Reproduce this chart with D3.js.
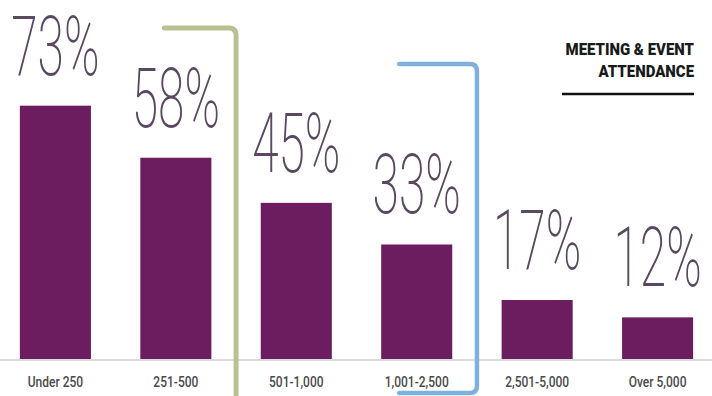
<!DOCTYPE html>
<html>
<head>
<meta charset="utf-8">
<script src="https://cdn.jsdelivr.net/npm/d3@7/dist/d3.min.js"></script>
<style>
  html, body { margin: 0; padding: 0; background: #ffffff; }
  svg { display: block; }
</style>
</head>
<body>
<svg id="chart" width="712" height="396"></svg>
<script>
// Attendance brackets and their share of respondents
const categories = ["Under 250", "251-500", "501-1,000", "1,001-2,500", "2,501-5,000", "Over 5,000"];
const values = [73, 58, 45, 33, 17, 12];
const titleLines = ["MEETING & EVENT", "ATTENDANCE"];

const W = 712, H = 396;
const baseY = 359;
const svg = d3.select("#chart");

const x = d3.scaleBand()
  .domain(categories)
  .range([0, 713])
  .paddingInner(0.41)
  .paddingOuter(0.165);

const y = d3.scaleLinear()
  .domain([0, 100])
  .range([baseY, baseY - 347]);

// text squeezed horizontally for a condensed face; anchored at (px, py)
function condensedText(parent, data, px, py, factor, anchor) {
  return parent.selectAll(null)
    .data(data)
    .join("g")
    .attr("transform", (d, i) => `translate(${px(d, i)},${py(d, i)}) scale(${factor},1)`)
    .append("text")
    .attr("text-anchor", anchor);
}

// baseline rule
svg.append("line")
  .attr("x1", 0).attr("x2", W)
  .attr("y1", baseY + 1).attr("y2", baseY + 1)
  .attr("stroke", "#cfcfcf").attr("stroke-width", 1.5);

// bars
svg.selectAll("rect.bar")
  .data(categories)
  .join("rect")
  .attr("class", "bar")
  .attr("x", d => x(d))
  .attr("width", x.bandwidth())
  .attr("y", (d, i) => y(values[i]))
  .attr("height", (d, i) => y(0) - y(values[i]))
  .attr("fill", "#6b1d5f");

// value labels
condensedText(svg, categories,
    d => x(d) + x.bandwidth() / 2,
    (d, i) => y(values[i]) - 31,
    0.57, "middle")
  .attr("font-family", "Roboto, 'DejaVu Sans', sans-serif")
  .attr("font-weight", 200)
  .attr("font-size", 84)
  .attr("fill", "#5a4760")
  .text((d, i) => values[i] + "%");

// category labels
condensedText(svg, categories,
    d => x(d) + x.bandwidth() / 2,
    () => 387,
    0.8, "middle")
  .attr("font-family", "Roboto, 'DejaVu Sans', sans-serif")
  .attr("font-weight", 500)
  .attr("font-size", 15)
  .attr("fill", "#4a4a4a")
  .text(d => d);

// brackets grouping the mid-size ranges
const gap = x.step() - x.bandwidth();
const greenX = x(categories[1]) + x.bandwidth() + gap / 2;
const blueX = x(categories[3]) + x.bandwidth() + gap / 2;
const r = 7;

svg.append("path")
  .attr("d", `M${x(categories[1]) + 24},28 H${greenX - r} Q${greenX},28 ${greenX},${28 + r} V${H + 5}`)
  .attr("fill", "none")
  .attr("stroke", "#b9c091")
  .attr("stroke-width", 5)
  .attr("stroke-linecap", "round");

svg.append("path")
  .attr("d", `M${x(categories[3]) + 18},64 H${blueX - r} Q${blueX},64 ${blueX},${64 + r} V${393 - r} Q${blueX},393 ${blueX - r},393 H${x(categories[3]) + 18}`)
  .attr("fill", "none")
  .attr("stroke", "#7fb1de")
  .attr("stroke-width", 4.5)
  .attr("stroke-linecap", "round");

// title block
const title = svg.append("g");
condensedText(title, titleLines, () => 694, (d, i) => 55 + i * 22, 0.88, "end")
  .attr("font-family", "Roboto, 'DejaVu Sans', sans-serif")
  .attr("font-weight", 900)
  .attr("font-size", 17)
  .attr("fill", "#1a1a1a")
  .text(d => d);

title.append("line")
  .attr("x1", 562).attr("x2", 694)
  .attr("y1", 94).attr("y2", 94)
  .attr("stroke", "#111").attr("stroke-width", 2.5);
</script>
</body>
</html>
